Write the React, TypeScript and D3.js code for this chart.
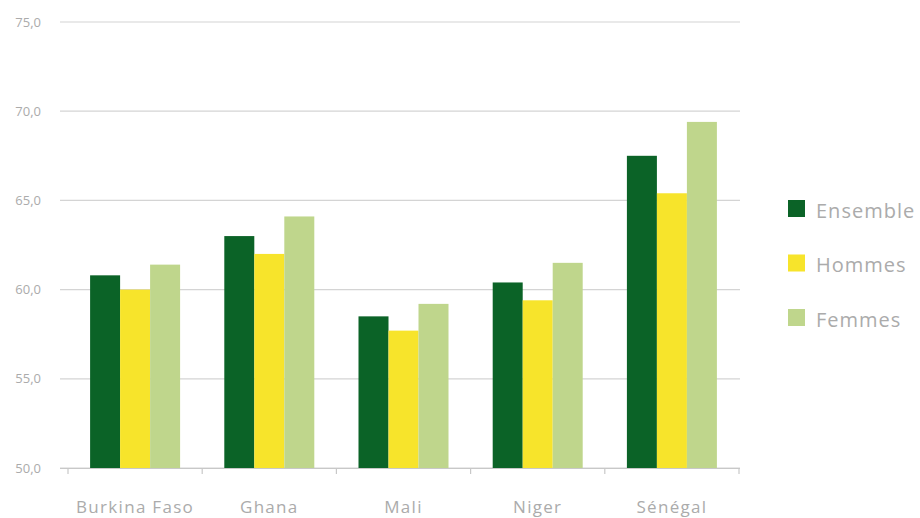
import React from "react";
import * as d3 from "d3";

const categories = ["Burkina Faso", "Ghana", "Mali", "Niger", "Sénégal"];
const seriesNames = ["Ensemble", "Hommes", "Femmes"];
const ensemble = [60.8, 63.0, 58.5, 60.4, 67.5];
const hommes = [60.0, 62.0, 57.7, 59.4, 65.4];
const femmes = [61.4, 64.1, 59.2, 61.5, 69.4];
const yTicks = [50, 55, 60, 65, 70, 75];
const colors = ["#0b6327", "#f7e42b", "#bfd68c"];

export default function App() {
  const W = 920, H = 518;
  const series = [ensemble, hommes, femmes];
  const y = d3.scaleLinear().domain([50, 75]).range([468, 22]);
  const x = d3.scaleBand().domain(categories).range([68, 739]).paddingInner(0).paddingOuter(0);
  const inner = d3.scaleBand().domain(seriesNames).range([0, 90]);
  const groupOffset = (x.bandwidth() - 90) / 2;
  const fmt = (v: number) => d3.format(".1f")(v).replace(".", ",");
  const font = "'Open Sans', Roboto, sans-serif";
  const textColor = "#ababab";
  const edges = categories.map((c) => x(c)!).concat([x(categories[categories.length - 1])! + x.bandwidth()]);

  return (
    <svg width={W} height={H} style={{ position: "absolute", left: 0, top: 0 }} fontFamily={font}>
      <rect width={W} height={H} fill="#fff" />
      {yTicks.map((t) => (
        <g key={t}>
          <line x1={60} x2={740} y1={y(t)} y2={y(t)} stroke="#d4d4d4" strokeWidth={1.2} />
          <text x={41} y={y(t) + 4.5} textAnchor="end" fontSize={13} fill={textColor}>
            {fmt(t)}
          </text>
        </g>
      ))}
      {categories.map((c, i) => (
        <g key={c}>
          {series.map((s, j) => (
            <rect
              key={j}
              x={x(c)! + groupOffset + inner(seriesNames[j])!}
              y={y(s[i])}
              width={inner.bandwidth()}
              height={y(50) - y(s[i])}
              fill={colors[j]}
            />
          ))}
          <text
            x={x(c)! + x.bandwidth() / 2}
            y={513}
            textAnchor="middle"
            fontSize={17}
            fill={textColor}
            letterSpacing={1.3}
          >
            {c}
          </text>
        </g>
      ))}
      <line x1={60} x2={740} y1={468.5} y2={468.5} stroke="#c8c8c8" strokeWidth={1.2} />
      {edges.map((e, i) => (
        <line key={i} x1={e} x2={e} y1={468} y2={474} stroke="#c8c8c8" strokeWidth={1.2} />
      ))}
      {seriesNames.map((n, j) => (
        <g key={n} transform={`translate(788, ${200 + j * 54.5})`}>
          <rect width={17} height={17} fill={colors[j]} />
          <text x={28} y={17.5} fontSize={20} fill={textColor} letterSpacing={1}>
            {n}
          </text>
        </g>
      ))}
    </svg>
  );
}
